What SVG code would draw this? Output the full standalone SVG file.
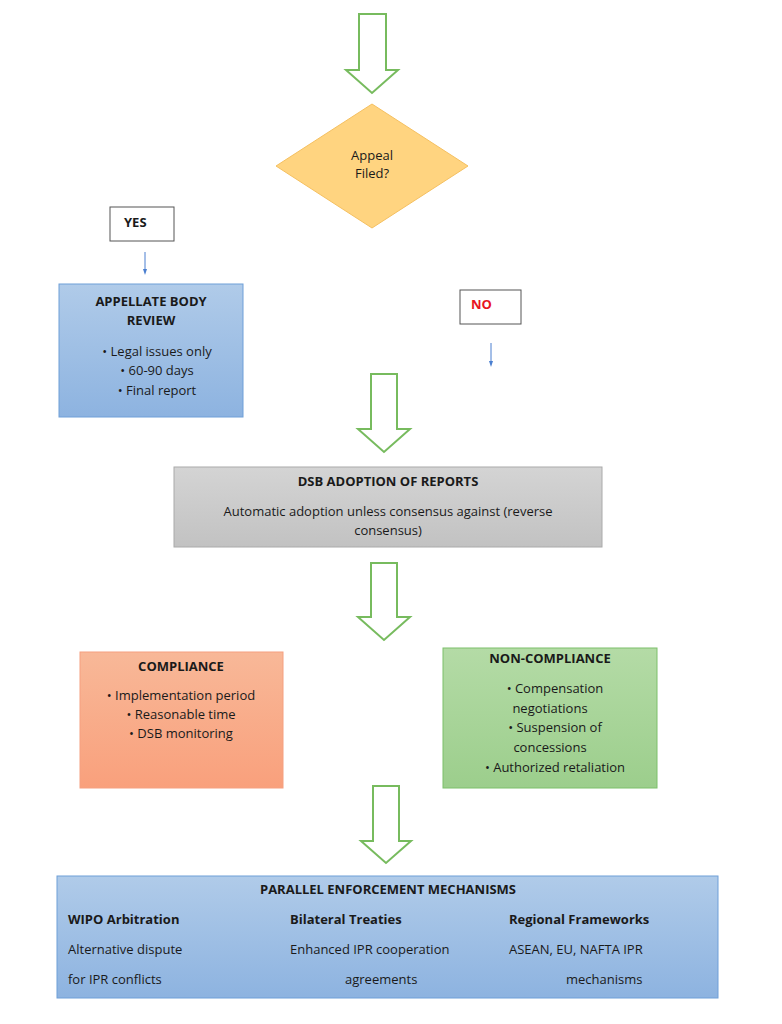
<svg xmlns="http://www.w3.org/2000/svg" width="782" height="1024" viewBox="0 0 782 1024">
<defs>
<style>
text{font-family:"Open Sans","Liberation Sans",sans-serif;font-size:13px;fill:#1a1a1a}
.b{font-weight:bold}
.c{text-anchor:middle}
.big{fill:#fff;stroke:#77bb5e;stroke-width:2}
.thin{stroke:#4a7fd0;stroke-width:1;fill:none}
</style>
<linearGradient id="gb" x1="0" y1="0" x2="0" y2="1"><stop offset="0" stop-color="#b0cbe9"/><stop offset="1" stop-color="#8db3e0"/></linearGradient>
<linearGradient id="gg" x1="0" y1="0" x2="0" y2="1"><stop offset="0" stop-color="#d4d4d4"/><stop offset="1" stop-color="#c2c2c2"/></linearGradient>
<linearGradient id="go" x1="0" y1="0" x2="0" y2="1"><stop offset="0" stop-color="#f8b898"/><stop offset="1" stop-color="#f9a07c"/></linearGradient>
<linearGradient id="gn" x1="0" y1="0" x2="0" y2="1"><stop offset="0" stop-color="#b4dba6"/><stop offset="1" stop-color="#9cce8c"/></linearGradient>
<marker id="m" markerWidth="6" markerHeight="6" refX="3" refY="3" orient="auto"><path d="M0,1 L6,3 L0,5z" fill="#4a7fd0"/></marker>
</defs>
<g id="connectors">
<path class="big" d="M359,14 H386 V70 H398 L372,93 L346,70 H359Z"/>
<path class="big" d="M371,374 H397 V429 H410 L384,452 L358,429 H371Z"/>
<path class="big" d="M371,563 H397 V617 H410 L384,640 L358,617 H371Z"/>
<path class="big" d="M373,786 H399 V841 H411 L386,863 L361,841 H373Z"/>
<line class="thin" x1="145" y1="252" x2="145" y2="272" marker-end="url(#m)"/>
<line class="thin" x1="491" y1="343" x2="491" y2="364" marker-end="url(#m)"/>
</g>
<g id="appeal">
<polygon points="372,104 468,166 372,228 276,166" fill="#ffd480" stroke="#f5c060"/>
<text class="c" x="372" y="160">Appeal</text>
<text class="c" x="372" y="178">Filed?</text>
</g>
<g id="yes"><rect x="110" y="207" width="64" height="34" fill="#fff" stroke="#555"/><text class="b" x="124" y="227">YES</text></g>
<g id="no"><rect x="460" y="290" width="61" height="34" fill="#fff" stroke="#555"/><text class="b" x="471" y="309" style="fill:#e8141e">NO</text></g>
<g id="appellate">
<rect x="59" y="284" width="184" height="133" fill="url(#gb)" stroke="#6f9fd8"/>
<text class="b c" x="151" y="306">APPELLATE BODY</text>
<text class="b c" x="151" y="325">REVIEW</text>
<text class="c" x="157" y="356">• Legal issues only</text>
<text class="c" x="157" y="375">• 60-90 days</text>
<text class="c" x="157" y="395">• Final report</text>
</g>
<g id="dsb">
<rect x="174" y="467" width="428" height="80" fill="url(#gg)" stroke="#aaa"/>
<text class="b c" x="388" y="486">DSB ADOPTION OF REPORTS</text>
<text class="c" x="388" y="516">Automatic adoption unless consensus against (reverse</text>
<text class="c" x="388" y="535">consensus)</text>
</g>
<g id="compliance">
<rect x="80" y="652" width="203" height="136" fill="url(#go)" stroke="#f5a080"/>
<text class="b c" x="181" y="671">COMPLIANCE</text>
<text class="c" x="181" y="700">• Implementation period</text>
<text class="c" x="181" y="719">• Reasonable time</text>
<text class="c" x="181" y="738">• DSB monitoring</text>
</g>
<g id="noncompliance">
<rect x="443" y="648" width="214" height="140" fill="url(#gn)" stroke="#7cc06a"/>
<text class="b c" x="550" y="663">NON-COMPLIANCE</text>
<text class="c" x="555" y="693">• Compensation</text>
<text class="c" x="550" y="713">negotiations</text>
<text class="c" x="555" y="732">• Suspension of</text>
<text class="c" x="550" y="752">concessions</text>
<text class="c" x="555" y="772">• Authorized retaliation</text>
</g>
<g id="parallel">
<rect x="57" y="876" width="661" height="122" fill="url(#gb)" stroke="#6f9fd8"/>
<text class="b c" x="388" y="894">PARALLEL ENFORCEMENT MECHANISMS</text>
<text class="b" x="68" y="924">WIPO Arbitration</text>
<text class="b" x="290" y="924">Bilateral Treaties</text>
<text class="b" x="509" y="924">Regional Frameworks</text>
<text x="68" y="954">Alternative dispute</text>
<text x="290" y="954">Enhanced IPR cooperation</text>
<text x="509" y="954">ASEAN, EU, NAFTA IPR</text>
<text x="68" y="984">for IPR conflicts</text>
<text x="345" y="984">agreements</text>
<text x="566" y="984">mechanisms</text>
</g>
</svg>
